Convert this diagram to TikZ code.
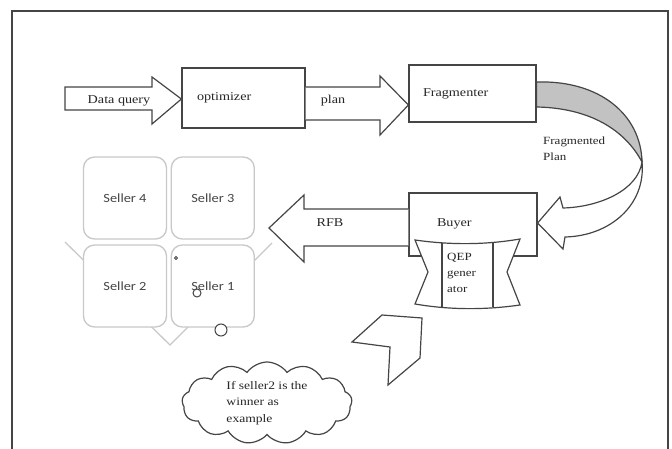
\documentclass[tikz,border=0pt]{standalone}
\usepackage{fontspec}
\setmainfont{Liberation Serif}[FakeStretch=1.18]
\newfontfamily\sellerfont{Carlito}[FakeStretch=1.15]
\usetikzlibrary{shapes.symbols,calc}
\definecolor{ink}{HTML}{454545}
\definecolor{pale}{HTML}{C8C8C8}
\definecolor{band}{HTML}{C2C2C2}
\definecolor{softtext}{HTML}{454545}
\begin{document}
\begin{tikzpicture}[x=1pt,y=-1pt,line join=miter,
  outline/.style={draw=ink,line width=1.2pt},
  procbox/.style={outline,fill=white,inner ysep=0pt,align=left,
    font=\fontsize{12}{14}\selectfont,text=black!85},
  lbl/.style={inner sep=0pt,font=\fontsize{12}{14}\selectfont,text=black!85},
  small/.style={inner sep=0pt,font=\fontsize{11}{16}\selectfont,text=black!85,align=left},
  sellerbox/.style={draw=pale,line width=1.3pt,rounded corners=11pt,fill=white,
    minimum width=83pt,minimum height=82pt,inner sep=0pt,
    font=\sellerfont\fontsize{12.5}{14}\selectfont,text=softtext},
  dot/.style={circle,draw=ink,line width=1pt,fill=white,inner sep=0pt},
]
\useasboundingbox (0,0) rectangle (672,449);

% page frame, open at the bottom
\draw[ink,line width=2pt] (12,449) -- (12,11) -- (668,11) -- (668,449);

% processing boxes
\node[procbox,minimum height=60pt,text width=93pt,inner xsep=15pt] (opt) at (243.5,98) {optimizer};
\node[procbox,minimum height=57pt,text width=99pt,inner xsep=14pt] (frag) at (472.5,93.5) {Fragmenter};
\node[procbox,minimum height=63pt,text width=72pt,inner xsep=28pt] (buyer) at (473,224.5) {\raisebox{3pt}{Buyer}};

% block arrow: data query into the optimizer
\path[outline,fill=white] (65,87) -- (152,87) -- (152,77) -- (opt.west |- 0,99)
  -- (152,124) -- (152,110) -- (65,110) -- cycle;
\node[lbl] (dq) at (119,101) {Data query};

% block arrow: plan from optimizer to fragmenter
\path[outline,fill=white] (opt.east |- 0,87) -- (380,87) -- (380,76) -- (frag.west |- 0,105)
  -- (380,135) -- (380,120) -- (opt.east |- 0,120);
\node[lbl] (plan) at (333,101) {plan};

% curved arrow: fragmented plan from fragmenter down to the buyer
\coordinate (bend) at (642,162);
\path[outline,fill=band] (frag.east |- 0,82) .. controls (600,80) and (641,115) .. (bend)
  .. controls (625,130) and (590,108) .. (frag.east |- 0,107) -- cycle;
\path[outline,fill=white] (bend) .. controls (638,190) and (600,207) .. (563,208)
  -- (560,197) -- (buyer.east |- 0,223) -- (563,249) -- (565,237)
  .. controls (610,236) and (646,205) .. (bend) -- cycle;
\node[small,anchor=west] (fp) at (543,149) {Fragmented\\Plan};

% block arrow: request for bids from the buyer to the sellers
\path[outline,fill=white] (buyer.west |- 0,209) -- (304,209) -- (304,195) -- (269,228)
  -- (304,262) -- (304,246) -- (buyer.west |- 0,246);
\node[lbl] (rfb) at (330,223) {RFB};

% QEP generator banner on the buyer
\path[outline,fill=white] (415,240) .. controls (450,245) and (485,245) .. (520,239)
  -- (507,272) -- (520,305) .. controls (485,310) and (450,310) .. (415,304)
  -- (428,272) -- cycle;
\draw[ink,line width=1.2pt] (442,242.8) -- (442,307.4) (493,242.7) -- (493,307.4);
\node[small,anchor=north west] (qep) at (447,253) {QEP\\gener\\ator};

% seller matrix with its backing chevron
\draw[pale,line width=1.3pt] (65,242) -- (170,345) -- (272,243);
\node[sellerbox] (s4) at (125,198) {Seller 4};
\node[sellerbox] (s3) at (212.8,198) {Seller 3};
\node[sellerbox] (s2) at (125,286) {Seller 2};
\node[sellerbox] (s1) at (212.8,286) {Seller 1};
\node[dot,minimum size=3pt] (d1) at (176,258) {};
\node[dot,minimum size=8pt] (d2) at (197,293) {};
\node[dot,minimum size=12pt] (d3) at (221,330) {};

% chevron pointing back to the sellers
\path[outline,fill=white] (352,342) -- (382,315) -- (422,318) -- (420,358)
  -- (388,385) -- (390,347) -- cycle;

% note cloud
\node[cloud,cloud puffs=13,cloud puff arc=110,aspect=2.1,outline,fill=white,
  minimum width=170pt,minimum height=82pt,inner sep=0pt,
  font=\fontsize{11.5}{16.5}\selectfont,text=black!85,align=left] (note) at (267,403)
  {If seller2 is the\\winner as\\example\hphantom{ is the}};
\end{tikzpicture}
\end{document}
